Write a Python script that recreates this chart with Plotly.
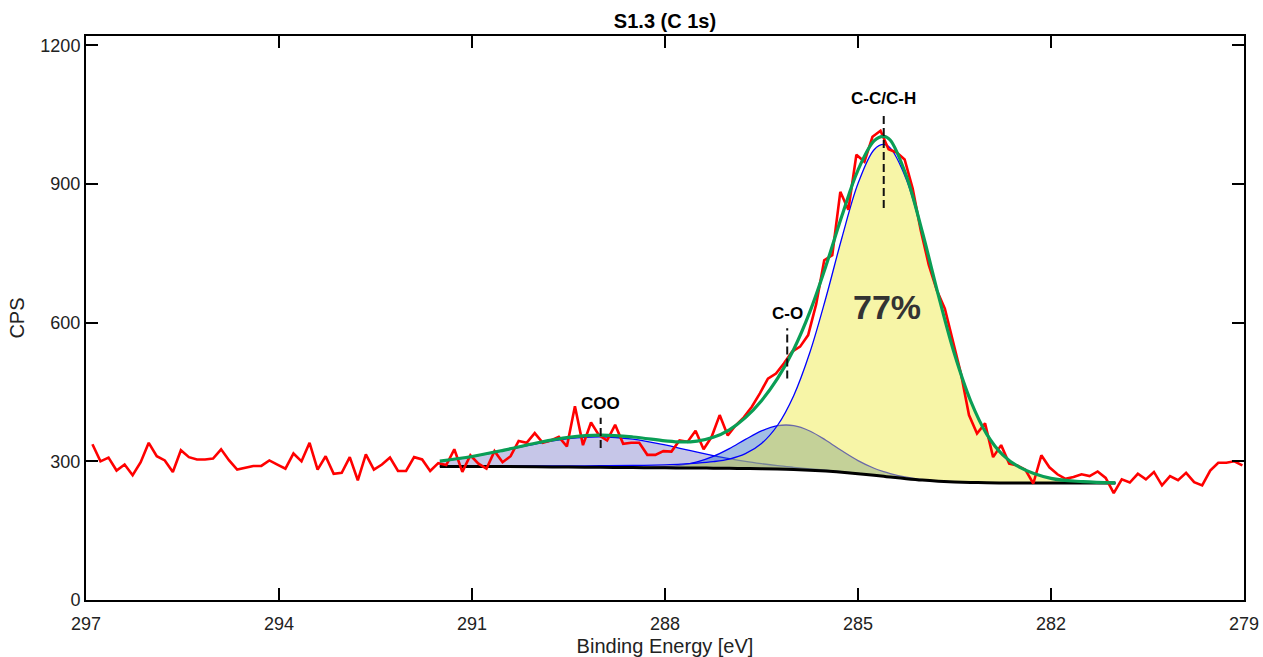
import plotly.graph_objects as go

# ---------------- measured C 1s spectrum (counts per second) ----------------
be_start = 296.9   # eV, first channel
be_step = 0.125    # eV per channel
raw_cps = [
    337, 300, 308, 280, 293, 270, 298, 340, 311, 302,
    277, 324, 309, 304, 304, 306, 326, 302, 282, 286,
    290, 290, 302, 293, 284, 317, 300, 340, 282, 311,
    273, 275, 309, 259, 315, 282, 293, 308, 279, 279,
    309, 304, 279, 296, 292, 326, 277, 313, 295, 284,
    322, 298, 311, 344, 340, 361, 340, 345, 353, 332,
    419, 335, 384, 356, 345, 379, 338, 340, 340, 314,
    314, 322, 321, 345, 342, 366, 326, 353, 400, 356,
    378, 395, 418, 447, 479, 490, 512, 537, 548, 573,
    640, 735, 746, 883, 844, 963, 948, 1002, 1015, 975,
    968, 953, 890, 800, 725, 670, 630, 560, 490, 400,
    360, 382, 309, 335, 295, 291, 282, 252, 313, 287,
    272, 262, 266, 272, 268, 278, 264, 231, 261, 254,
    273, 261, 277, 248, 268, 259, 275, 255, 248, 280,
    297, 297, 300, 291,
]
raw_be = [round(be_start - be_step * i, 3) for i in range(len(raw_cps))]

# ---------------- peak-fit curves, read at fit_be ----------------
fit_be = [291.5, 291.0, 290.5, 290.0, 289.5, 289.0, 288.5, 288.0, 287.75, 287.5,
          287.25, 287.0, 286.75, 286.5, 286.25, 286.0, 285.75, 285.5, 285.25, 285.0,
          284.75, 284.6, 284.5, 284.25, 284.0, 283.75, 283.5, 283.25, 283.0, 282.75,
          282.5, 282.0, 281.5, 281.0]
fit_background = [289.0, 288.9, 288.6, 288.2, 287.7, 287.1, 286.4, 285.9, 285.7, 285.4,
                  285.2, 284.9, 284.5, 284.0, 283.2, 282.2, 280.7, 278.8, 276.3, 273.2,
                  269.7, 267.5, 266.0, 262.5, 259.4, 257.1, 255.4, 254.3, 253.6, 253.3,
                  253.1, 253.0, 253.0, 253.0]
fit_coo = [299.9, 309.7, 323.1, 337.7, 349.1, 353.1, 347.8, 335.4, 327.7, 319.9,
           312.5, 305.7, 299.8, 294.9, 290.6, 287.1, 283.8, 280.7, 277.4, 273.9,
           270.1, 267.8, 266.2, 262.6, 259.4, 257.1, 255.4, 254.3, 253.6, 253.3,
           253.1, 253.0, 253.0, 253.0]
fit_co = [289.0, 288.9, 288.6, 288.2, 287.7, 287.2, 286.7, 288.4, 291.9, 298.8,
          310.6, 327.4, 347.3, 365.7, 377.0, 377.2, 365.6, 345.6, 322.7, 301.6,
          285.0, 277.5, 273.3, 265.6, 260.5, 257.5, 255.4, 254.3, 253.6, 253.3,
          253.1, 253.0, 253.0, 253.0]
fit_cc = [289.5, 289.7, 289.8, 290.0, 290.2, 290.4, 290.9, 292.4, 293.7, 295.9,
          299.2, 304.9, 316.5, 338.6, 378.0, 442.0, 534.7, 653.3, 783.7, 900.9,
          974.1, 985.5, 977.9, 910.1, 792.8, 657.8, 531.7, 430.6, 359.2, 314.3,
          288.1, 263.0, 256.0, 253.5]
fit_envelope = [300.4, 310.5, 324.3, 339.5, 351.6, 356.5, 352.6, 344.4, 341.9, 343.8,
                351.9, 368.2, 394.6, 431.2, 479.2, 541.9, 622.7, 722.0, 831.2, 930.0,
                993.0, 1003.0, 995.0, 918.0, 796.0, 659.0, 532.0, 431.0, 359.0, 314.0,
                288.0, 263.0, 256.0, 253.5]

# ---------------- peak position markers and labels ----------------
peak_labels = ["COO", "C-O", "C-C/C-H"]
peak_be = [289.0, 286.1, 284.6]
marker_top = [394, 588, 1054]
marker_bottom = [329, 479, 848]
share_text = "77%"
share_be = 284.55
share_cps = 633

x_ticks = [297, 294, 291, 288, 285, 282, 279]
y_ticks = [0, 300, 600, 900, 1200]

FONT = "Arial, 'Liberation Sans', sans-serif"

fig = go.Figure()

components = [
    (fit_coo, "rgba(120,118,200,0.42)"),
    (fit_co, "rgba(50,110,195,0.45)"),
    (fit_cc, "rgba(238,232,60,0.45)"),
]
for comp, fillcol in components:
    fig.add_trace(go.Scatter(x=fit_be, y=fit_background, mode="lines",
                             line=dict(width=0, shape="spline"),
                             showlegend=False, hoverinfo="skip"))
    fig.add_trace(go.Scatter(x=fit_be, y=comp, mode="lines", fill="tonexty",
                             fillcolor=fillcol,
                             line=dict(color="#0000ff", width=1.3, shape="spline"),
                             showlegend=False, hoverinfo="skip"))

fig.add_trace(go.Scatter(x=fit_be, y=fit_background, mode="lines",
                         line=dict(color="black", width=3, shape="spline"),
                         showlegend=False))
fig.add_trace(go.Scatter(x=raw_be, y=raw_cps, mode="lines",
                         line=dict(color="#ff0000", width=2.6),
                         showlegend=False))
fig.add_trace(go.Scatter(x=fit_be, y=fit_envelope, mode="lines",
                         line=dict(color="#0a9e55", width=3.2, shape="spline"),
                         showlegend=False))

for lab, be, top, bot in zip(peak_labels, peak_be, marker_top, marker_bottom):
    fig.add_trace(go.Scatter(x=[be, be], y=[bot, top], mode="lines",
                             line=dict(color="#111111", width=2, dash="8px,4px"),
                             showlegend=False))
    fig.add_annotation(x=be, y=top, text="<b>%s</b>" % lab, showarrow=False,
                       yanchor="bottom", yshift=3,
                       font=dict(family=FONT, size=17, color="black"))

fig.add_annotation(x=share_be, y=share_cps, text="<b>%s</b>" % share_text,
                   showarrow=False, font=dict(family=FONT, size=34, color="#333333"))

axis_common = dict(showline=True, linecolor="black", linewidth=2, mirror="ticks",
                   ticks="inside", ticklen=12, tickwidth=2, tickcolor="black",
                   showgrid=False, zeroline=False, automargin=False,
                   tickfont=dict(family=FONT, size=18, color="#222222"))

fig.update_layout(
    width=1263, height=657,
    margin=dict(l=86, r=19, t=36, b=57),
    paper_bgcolor="white", plot_bgcolor="white",
    showlegend=False,
    title=dict(text="<b>S1.3 (C 1s)</b>", x=0.5, xref="paper", xanchor="center",
               y=1 - 21 / 657, yref="container", yanchor="middle",
               font=dict(family=FONT, size=20, color="black")),
    xaxis=dict(range=[297, 279], tickvals=x_ticks, ticktext=[str(v) for v in x_ticks],
               ticklabelstandoff=6,
               title=dict(text="Binding Energy [eV]", standoff=8,
                          font=dict(family=FONT, size=20, color="#222222")),
               **axis_common),
    yaxis=dict(range=[0, 1220], tickvals=y_ticks,
               title=dict(text="CPS", standoff=10,
                          font=dict(family=FONT, size=20, color="#222222")),
               **axis_common),
)

fig.write_html("out.html")
